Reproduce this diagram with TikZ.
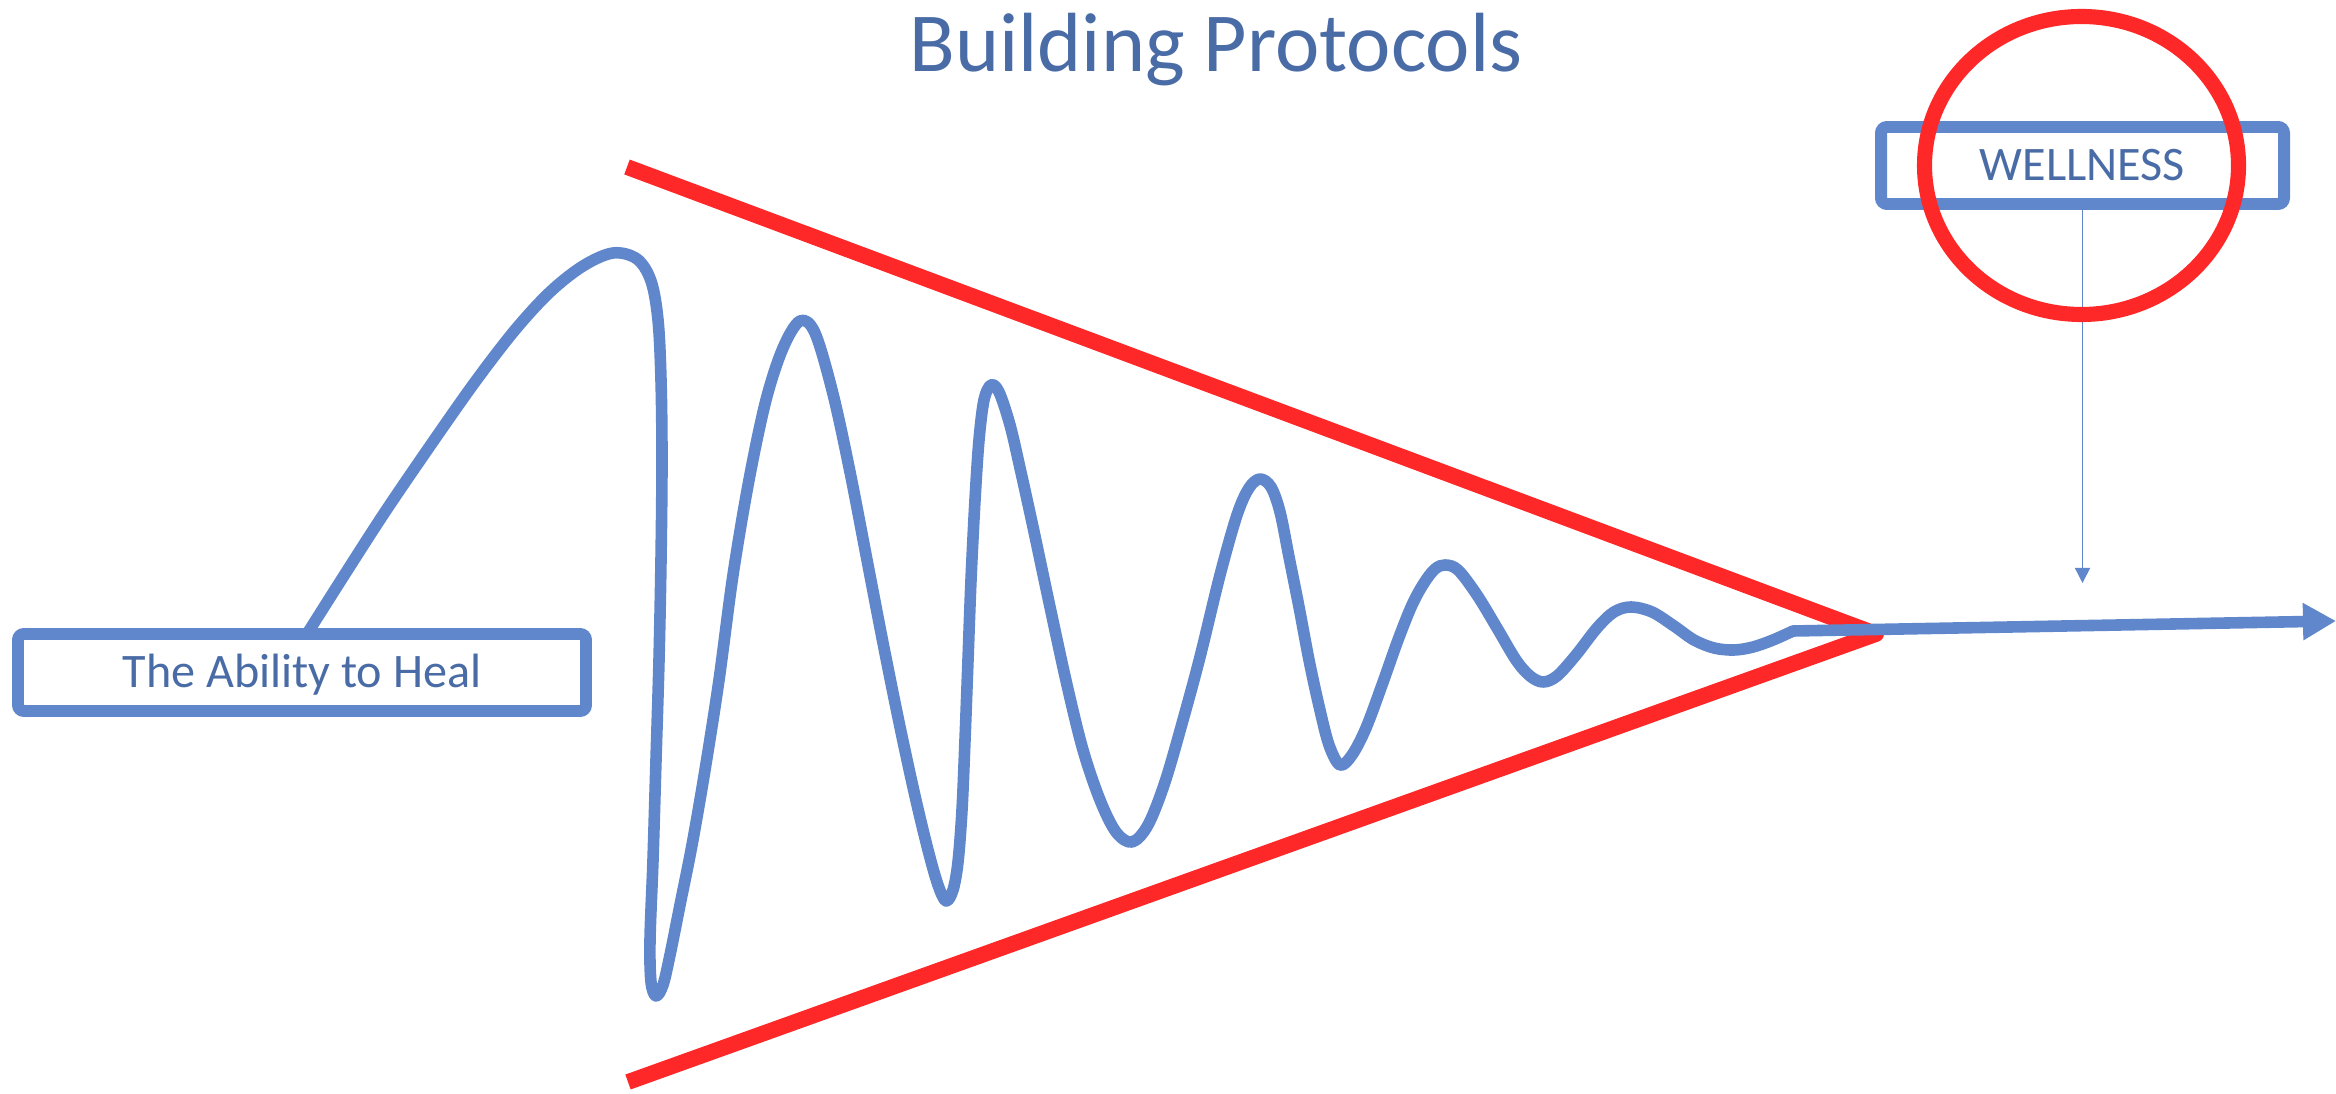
\documentclass[tikz,border=0pt]{standalone}
\usepackage{fontspec}
\setmainfont{Carlito}
\usetikzlibrary{arrows.meta}
\definecolor{lineblue}{HTML}{6087CB}
\definecolor{textblue}{HTML}{4A6CA6}
\definecolor{redline}{HTML}{FF2828}
\begin{document}
\begin{tikzpicture}[x=0.1mm,y=-0.1mm,
  lbox/.style={draw=lineblue, line width=3.4pt, fill=white, rounded corners=0.6mm,
    minimum height=7.7mm, text height=3.1mm, text depth=0pt, inner sep=0pt,
    text=textblue, font=\fontsize{13.7}{16}\selectfont},
  wavepath/.style={draw=lineblue, line width=3.3pt, line join=round},
  redpath/.style={draw=redline, line width=4.5pt, line join=round},
  ring/.style={draw=redline, line width=4.3pt},
  thinarrow/.style={draw=lineblue, line width=0.45pt, -{Triangle[length=4.3pt,width=4.3pt]}}]
\useasboundingbox[fill=white] (0,0) rectangle (2336,1094);
% title
\node[anchor=base, inner sep=0pt, text=textblue, font=\fontsize{23.9}{28}\selectfont] (title) at (1216,72) {Building Protocols};
% red funnel
\coordinate (r1) at (627,167);
\coordinate (rapex) at (1876,634);
\coordinate (r2) at (628,1082);
\draw[redpath] (r1) -- (rapex) -- (r2);
% wave
\coordinate (w0) at (307,634);
\coordinate (kink) at (1793,631);
\coordinate (tip) at (2336,621);
\draw[wavepath, -{Triangle[length=9.4pt,width=10pt]}] plot[smooth, tension=0.55] coordinates {
 (w0) (345,574) (385,512) (430,446) (475,382) (515,330) (550,292) (583,266) (613,253)
 (637,259) (651,281) (658,320) (661,380) (662,460) (661,560) (659,660) (656,760) (653,860)
 (650,940) (651,982) (656,996) (663,985) (670,955) (680,905) (692,845) (705,770) (719,680)
 (733,575) (749,480) (766,400) (783,348) (800,321) (815,333) (833,394) (850,472) (867,560)
 (884,648) (900,727) (915,796) (928,850) (938,885) (946,901) (953,890) (958,862) (962,810)
 (965,740) (968,660) (971,580) (975,500) (979,440) (984,400) (991,385) (999,392) (1010,425)
 (1020,468) (1033,527) (1050,607) (1067,685) (1083,750) (1100,800) (1116,832) (1132,842)
 (1148,825) (1165,782) (1183,720) (1200,657) (1220,575) (1237,515) (1249,488) (1260,479)
 (1271,487) (1280,512) (1289,557) (1299,607) (1309,660) (1319,706) (1329,745) (1340,765)
 (1352,755) (1366,728) (1382,685) (1398,640) (1412,605) (1424,583) (1435,569) (1445,565)
 (1458,570) (1477,595) (1497,628) (1516,660) (1530,676) (1543,682) (1557,676) (1576,655)
 (1597,628) (1614,612) (1631,607) (1652,612) (1674,626) (1694,640) (1714,648) (1734,650)
 (1753,647) (1773,640) (kink)} -- (tip);
% boxes
\node[lbox, minimum width=56.8mm] (ability) at (302,672.5) {The Ability to Heal};
\node[lbox, minimum width=40.3mm] (well) at (2082.5,165.5) {WELLNESS};
\coordinate (wtip) at (2082.5,583);
\draw[thinarrow] (well.south) -- (wtip);
% red ring
\draw[ring] (2081.5,165.5) ellipse [x radius=15.7mm, y radius=14.9mm];
\end{tikzpicture}
\end{document}
